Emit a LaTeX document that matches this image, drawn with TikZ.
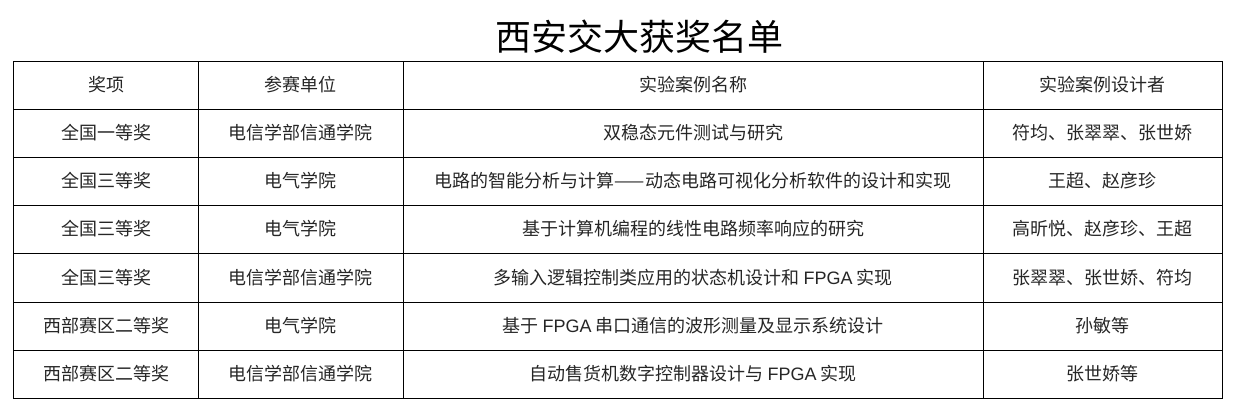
\documentclass[tikz,border=0pt]{standalone}
\usepackage{fontspec}
\setmainfont{Noto Sans CJK SC}
\newfontfamily\lat{Liberation Sans}
\begin{document}
\begin{tikzpicture}[x=1pt,y=-1pt,
  cell/.style={font=\fontsize{18}{20}\selectfont\addfontfeatures{FakeBold=-0.0}, text=black!85},
  grid/.style={draw=black, line width=0.8pt}]
\useasboundingbox (0,0) rectangle (1241,418);
\node[font=\fontsize{36}{40}\selectfont] (title) at (639,37) {西安交大获奖名单};
\draw[grid] (13,61) rectangle (1222,398);
\foreach \y in {109,157,205,253,302,350} \draw[grid] (13,\y) -- (1222,\y);
\foreach \x in {198,403,983} \draw[grid] (\x,61) -- (\x,398);
\def\ya{85}\def\yb{133}\def\yc{181}\def\yd{229}\def\ye{278}\def\yf{326}\def\yg{374}
\node[cell] (h1) at (106,\ya) {奖项};
\node[cell] (h2) at (300,\ya) {参赛单位};
\node[cell] (h3) at (693,\ya) {实验案例名称};
\node[cell] (h4) at (1102,\ya) {实验案例设计者};
\node[cell] (a1) at (106,\yb) {全国一等奖};
\node[cell] (a2) at (300,\yb) {电信学部信通学院};
\node[cell] (a3) at (693,\yb) {双稳态元件测试与研究};
\node[cell] (a4) at (1102,\yb) {符均、张翠翠、张世娇};
\node[cell] (b1) at (106,\yc) {全国三等奖};
\node[cell] (b2) at (300,\yc) {电气学院};
\node[cell] (b3) at (693,\yc) {电路的智能分析与计算——动态电路可视化分析软件的设计和实现};
\node[cell] (b4) at (1102,\yc) {王超、赵彦珍};
\node[cell] (c1) at (106,\yd) {全国三等奖};
\node[cell] (c2) at (300,\yd) {电气学院};
\node[cell] (c3) at (693,\yd) {基于计算机编程的线性电路频率响应的研究};
\node[cell] (c4) at (1102,\yd) {高昕悦、赵彦珍、王超};
\node[cell] (d1) at (106,\ye) {全国三等奖};
\node[cell] (d2) at (300,\ye) {电信学部信通学院};
\node[cell] (d3) at (693,\ye) {多输入逻辑控制类应用的状态机设计和 {\lat FPGA} 实现};
\node[cell] (d4) at (1102,\ye) {张翠翠、张世娇、符均};
\node[cell] (e1) at (106,\yf) {西部赛区二等奖};
\node[cell] (e2) at (300,\yf) {电气学院};
\node[cell] (e3) at (693,\yf) {基于 {\lat FPGA} 串口通信的波形测量及显示系统设计};
\node[cell] (e4) at (1102,\yf) {孙敏等};
\node[cell] (f1) at (106,\yg) {西部赛区二等奖};
\node[cell] (f2) at (300,\yg) {电信学部信通学院};
\node[cell] (f3) at (693,\yg) {自动售货机数字控制器设计与 {\lat FPGA} 实现};
\node[cell] (f4) at (1102,\yg) {张世娇等};
\end{tikzpicture}
\end{document}
